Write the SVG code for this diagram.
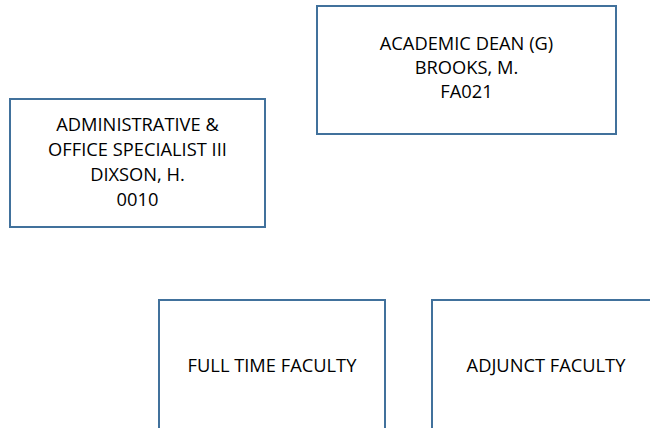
<svg xmlns="http://www.w3.org/2000/svg" width="650" height="428" viewBox="0 0 650 428">
<style>
.box{fill:#ffffff;stroke:#41719C;stroke-width:2}
.t{font-family:"Open Sans","Liberation Sans",sans-serif;font-size:18.3px;fill:#000;text-anchor:middle}
</style>
<rect width="650" height="428" fill="#ffffff"/>
<g id="connectors"></g>
<g id="dean">
<rect class="box" x="317" y="6" width="299" height="128"/>
<text class="t" x="466.5" y="50">ACADEMIC DEAN (G)</text>
<text class="t" x="466.5" y="74">BROOKS, M.</text>
<text class="t" x="466.5" y="98">FA021</text>
</g>
<g id="admin">
<rect class="box" x="10" y="99" width="255" height="128"/>
<text class="t" x="137.5" y="131">ADMINISTRATIVE &amp;</text>
<text class="t" x="137.5" y="156">OFFICE SPECIALIST III</text>
<text class="t" x="137.5" y="181">DIXSON, H.</text>
<text class="t" x="137.5" y="206">0010</text>
</g>
<g id="fulltime">
<rect class="box" x="159" y="300" width="226" height="140"/>
<text class="t" x="272" y="372">FULL TIME FACULTY</text>
</g>
<g id="adjunct">
<rect class="box" x="432" y="300" width="228" height="140"/>
<text class="t" x="546" y="372">ADJUNCT FACULTY</text>
</g>
</svg>
